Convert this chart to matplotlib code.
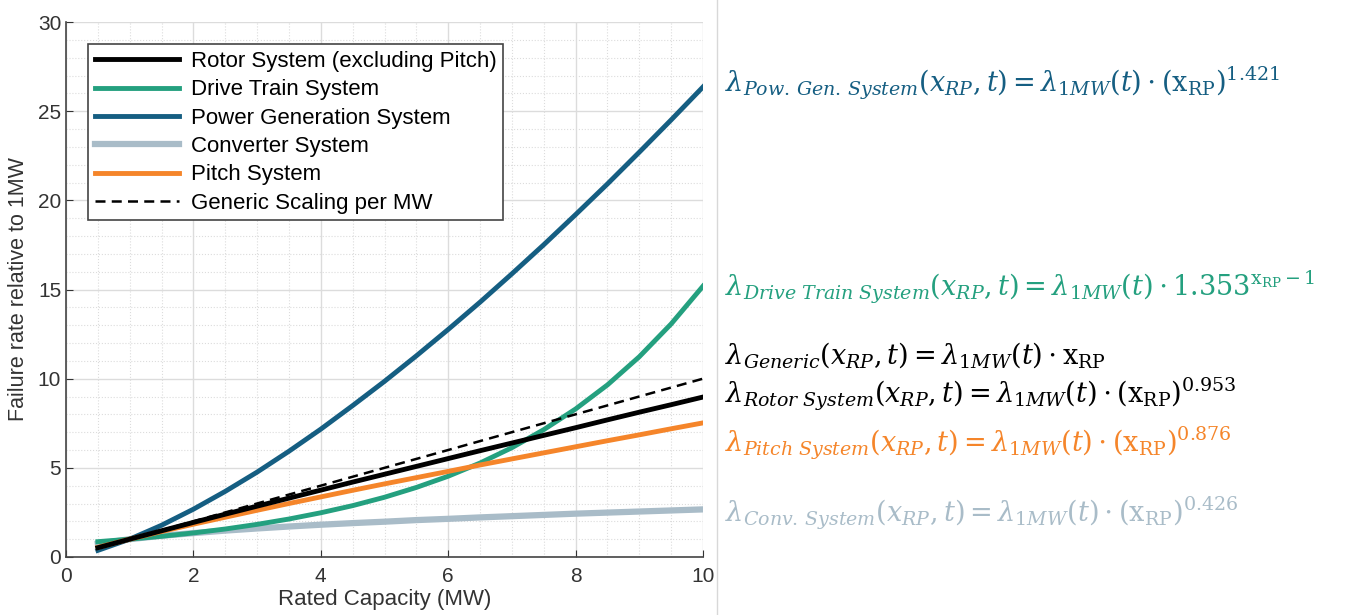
import matplotlib.pyplot as plt
from matplotlib.ticker import MultipleLocator
import matplotlib.lines as mlines

plt.rcParams['font.family'] = ['Liberation Sans', 'DejaVu Sans']
plt.rcParams['mathtext.fontset'] = 'dejavuserif'

# rated capacity (MW)
cap = [0.5, 1.0, 1.5, 2.0, 2.5, 3.0, 3.5, 4.0, 4.5, 5.0, 5.5, 6.0, 6.5, 7.0, 7.5,
       8.0, 8.5, 9.0, 9.5, 10.0]

# failure rate relative to 1MW
rotor = [0.52, 1.00, 1.47, 1.94, 2.40, 2.85, 3.30, 3.75, 4.20, 4.64, 5.08, 5.52,
         5.96, 6.39, 6.82, 7.25, 7.69, 8.12, 8.54, 8.97]
drive = [0.86, 1.00, 1.16, 1.35, 1.57, 1.83, 2.13, 2.48, 2.88, 3.35, 3.90, 4.53,
         5.27, 6.13, 7.14, 8.30, 9.65, 11.23, 13.07, 15.19]
power = [0.37, 1.00, 1.78, 2.68, 3.68, 4.76, 5.93, 7.17, 8.49, 9.85, 11.28, 12.76,
         14.29, 15.88, 17.51, 19.20, 20.92, 22.70, 24.51, 26.36]
conv = [0.74, 1.00, 1.19, 1.34, 1.48, 1.60, 1.71, 1.81, 1.90, 1.98, 2.07, 2.14,
        2.22, 2.29, 2.36, 2.43, 2.49, 2.55, 2.61, 2.67]
pitch = [0.54, 1.00, 1.43, 1.84, 2.23, 2.62, 3.00, 3.37, 3.74, 4.10, 4.45, 4.80,
         5.16, 5.50, 5.84, 6.18, 6.52, 6.85, 7.19, 7.52]
generic_x = [0.5, 10.0]
generic = [0.5, 10.0]

c_rotor = '#000000'
c_drive = '#24a07f'
c_power = '#155e82'
c_conv = '#a9bcc8'
c_pitch = '#f5852a'

fig = plt.figure(figsize=(13.47, 6.15), dpi=100)
ax = fig.add_axes([66 / 1347, 58 / 615, 637 / 1347, 535 / 615])

ax.plot(cap, conv, color=c_conv, lw=4.5, label='Converter System')
ax.plot(cap, power, color=c_power, lw=3.5, label='Power Generation System')
ax.plot(cap, drive, color=c_drive, lw=3.5, label='Drive Train System')
ax.plot(cap, pitch, color=c_pitch, lw=3.5, label='Pitch System')
ax.plot(cap, rotor, color=c_rotor, lw=3.5, label='Rotor System (excluding Pitch)')
ax.plot(generic_x, generic, color='black', lw=1.8, ls=(0, (4, 2.5)),
        label='Generic Scaling per MW')

ax.set_xlim(0, 10)
ax.set_ylim(0, 30)
ax.xaxis.set_major_locator(MultipleLocator(2))
ax.xaxis.set_minor_locator(MultipleLocator(0.5))
ax.yaxis.set_major_locator(MultipleLocator(5))
ax.yaxis.set_minor_locator(MultipleLocator(1))
ax.grid(which='major', color='#dcdcdc', lw=1.0)
ax.grid(which='minor', color='#dcdcdc', lw=0.8, ls=':')
ax.set_axisbelow(True)
ax.tick_params(which='both', direction='in', labelsize=15, colors='#333333',
               length=5, top=False, right=False)
ax.tick_params(axis='x', pad=7)
ax.tick_params(which='minor', length=0)
for s in ['top', 'right']:
    ax.spines[s].set_visible(False)
for s in ['left', 'bottom']:
    ax.spines[s].set_color('#444444')
    ax.spines[s].set_linewidth(1.2)

ax.set_xlabel('Rated Capacity (MW)', fontsize=16, color='#333333', labelpad=2)
ax.set_ylabel('Failure rate relative to 1MW', fontsize=15.5, color='#333333', labelpad=6)

# legend order as listed in the box
handles = [
    mlines.Line2D([], [], color=c_rotor, lw=3.5),
    mlines.Line2D([], [], color=c_drive, lw=3.5),
    mlines.Line2D([], [], color=c_power, lw=3.5),
    mlines.Line2D([], [], color=c_conv, lw=4.5),
    mlines.Line2D([], [], color=c_pitch, lw=3.5),
    mlines.Line2D([], [], color='black', lw=1.8, ls=(0, (4, 2.5))),
]
names = ['Rotor System (excluding Pitch)', 'Drive Train System',
         'Power Generation System', 'Converter System', 'Pitch System',
         'Generic Scaling per MW']
leg = ax.legend(handles, names, loc='upper left', bbox_to_anchor=(0.035, 0.958),
                fontsize=16, handlelength=3.8, handletextpad=0.5,
                labelspacing=0.33, borderpad=0.3, fancybox=False,
                framealpha=1, borderaxespad=0)
leg.get_frame().set_edgecolor('#444444')
leg.get_frame().set_linewidth(1.2)

# separator between the plot and the equations
fig.add_artist(mlines.Line2D([717 / 1347, 717 / 1347], [0, 1],
                             color='#d8d8d8', lw=1.0))

eqs = [
    (83, c_power, r'$\lambda_{Pow.\,Gen.\,System}(x_{RP},t)=\lambda_{1MW}(t)\cdot(\mathrm{x_{RP}})^{1.421}$'),
    (287, c_drive, r'$\lambda_{Drive\ Train\ System}(x_{RP},t)=\lambda_{1MW}(t)\cdot1.353^{\mathrm{x_{RP}}-1}$'),
    (355, 'black', r'$\lambda_{Generic}(x_{RP},t)=\lambda_{1MW}(t)\cdot\mathrm{x_{RP}}$'),
    (394, 'black', r'$\lambda_{Rotor\ System}(x_{RP},t)=\lambda_{1MW}(t)\cdot(\mathrm{x_{RP}})^{0.953}$'),
    (443, c_pitch, r'$\lambda_{Pitch\ System}(x_{RP},t)=\lambda_{1MW}(t)\cdot(\mathrm{x_{RP}})^{0.876}$'),
    (513, c_conv, r'$\lambda_{Conv.\,System}(x_{RP},t)=\lambda_{1MW}(t)\cdot(\mathrm{x_{RP}})^{0.426}$'),
]
for ypx, col, txt in eqs:
    fig.text(725 / 1347, 1 - ypx / 615, txt, color=col, fontsize=19.5,
             ha='left', va='center')

fig.savefig('out.png', dpi=100)
